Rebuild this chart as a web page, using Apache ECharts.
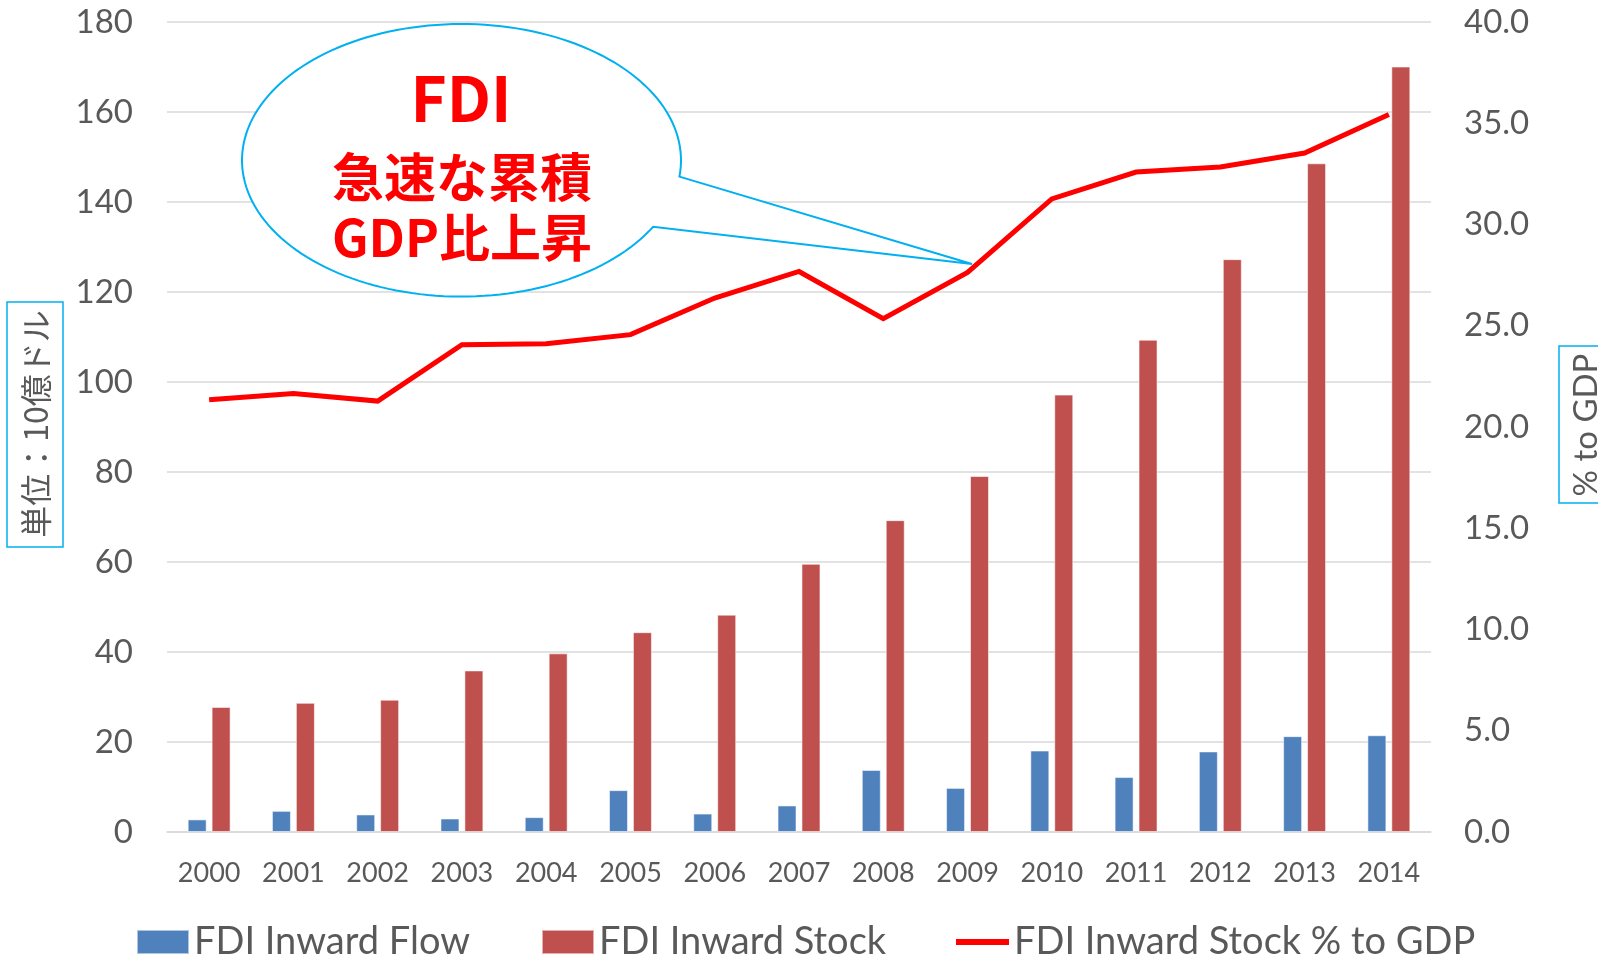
<!DOCTYPE html>
<html>
<head>
<meta charset="utf-8">
<script src="https://cdn.jsdelivr.net/npm/echarts@6/dist/echarts.min.js"></script>
<style>
html,body{margin:0;padding:0;background:#fff;}
#chart{width:1598px;height:959px;}
</style>
</head>
<body>
<div id="chart"></div>
<script>
var years = ['2000','2001','2002','2003','2004','2005','2006','2007','2008','2009','2010','2011','2012','2013','2014'];
var inwardFlow = [2.8, 4.7, 3.9, 3.0, 3.3, 9.3, 4.1, 5.9, 13.8, 9.8, 18.1, 12.2, 17.9, 21.3, 21.5];
var inwardStock = [27.8, 28.7, 29.4, 35.9, 39.7, 44.4, 48.3, 59.6, 69.3, 79.1, 97.2, 109.4, 127.3, 148.6, 170.1];
var stockPctGdp = [21.35, 21.65, 21.28, 24.06, 24.11, 24.56, 26.37, 27.68, 25.35, 27.63, 31.26, 32.59, 32.84, 33.53, 35.43];
var seriesNames = ['FDI Inward Flow', 'FDI Inward Stock', 'FDI Inward Stock % to GDP'];

var FONT = 'Lato, "Noto Sans", sans-serif';
var CJK = '"Noto Sans CJK JP", "Noto Sans", sans-serif';
var chart = echarts.init(document.getElementById('chart'));

function legendFor(i, left, icon, iw, ih) {
  return {
    left: left, top: 923, orient: 'horizontal', padding: 0,
    data: [{name: seriesNames[i], icon: icon}],
    itemWidth: iw, itemHeight: ih, itemGap: 0,
    selectedMode: false,
    textStyle: {fontFamily: FONT, fontSize: 38, color: '#595959', lineHeight: 38}
  };
}

// callout balloon outline (annotation shape)
var cx = 461.5, cy = 160.3, rx = 219.5, ry = 136.3;
var a1 = Math.atan2((176.7 - cy) / ry, (680 - cx) / rx);
var a2 = Math.atan2((226.7 - cy) / ry, (653 - cx) / rx) - 2 * Math.PI;
var balloon = [];
var N = 160;
for (var k = 0; k <= N; k++) {
  var a = a1 + (a2 - a1) * k / N;
  balloon.push([cx + rx * Math.cos(a), cy + ry * Math.sin(a)]);
}
balloon.push([972, 264]);

var option = {
  animation: false,
  backgroundColor: '#fff',
  grid: {left: 167, right: 167, top: 22, bottom: 127, containLabel: false},
  legend: [
    legendFor(0, 136, 'rect', 52, 24),
    legendFor(1, 541, 'rect', 52, 24),
    legendFor(2, 956, 'rect', 53, 6)
  ],
  xAxis: {
    type: 'category', data: years,
    axisLine: {show: true, lineStyle: {color: '#D9D9D9', width: 1.5}},
    axisTick: {show: false},
    axisLabel: {fontFamily: FONT, fontSize: 27, color: '#595959', margin: 28}
  },
  yAxis: [
    {type: 'value', min: 0, max: 180, interval: 20, position: 'left',
     axisLine: {show: false}, axisTick: {show: false},
     axisLabel: {fontFamily: FONT, fontSize: 33, color: '#595959', margin: 34},
     splitLine: {lineStyle: {color: '#D9D9D9', width: 1.5}}},
    {type: 'value', min: 0, max: 40, interval: 5, position: 'right',
     axisLine: {show: false}, axisTick: {show: false},
     axisLabel: {fontFamily: FONT, fontSize: 33, color: '#595959', margin: 33,
       formatter: function (v) { return v.toFixed(1); }},
     splitLine: {show: false}}
  ],
  series: [
    {name: seriesNames[0], type: 'bar', yAxisIndex: 0, data: inwardFlow,
     barWidth: 19, barGap: '26%',
     itemStyle: {color: '#4F81BD', borderColor: 'rgba(255,255,255,0.55)', borderWidth: 1}},
    {name: seriesNames[1], type: 'bar', yAxisIndex: 0, data: inwardStock,
     barWidth: 19, barGap: '26%',
     itemStyle: {color: '#C0504D', borderColor: 'rgba(255,255,255,0.55)', borderWidth: 1}},
    {name: seriesNames[2], type: 'line', yAxisIndex: 1, data: stockPctGdp,
     symbol: 'none', smooth: false, z: 5,
     lineStyle: {color: '#FF0000', width: 5, join: 'miter'},
     itemStyle: {color: '#FF0000'}}
  ],
  graphic: [
    {type: 'rect', shape: {x: 7, y: 302, width: 56, height: 245},
     style: {fill: '#fff', stroke: '#00B0F0', lineWidth: 1.5}, z: 10},
    {type: 'text', x: 36, y: 424, rotation: Math.PI / 2, z: 11,
     style: {text: '単位：10億ドル', font: '32px ' + CJK, fill: '#595959',
       textAlign: 'center', textVerticalAlign: 'middle'}},
    {type: 'rect', shape: {x: 1559, y: 346, width: 60, height: 157},
     style: {fill: '#fff', stroke: '#00B0F0', lineWidth: 1.5}, z: 10},
    {type: 'text', x: 1586, y: 425, rotation: Math.PI / 2, z: 11,
     style: {text: '% to GDP', font: '33px ' + FONT, fill: '#595959',
       textAlign: 'center', textVerticalAlign: 'middle'}},
    {type: 'polygon', z: 20,
     shape: {points: balloon},
     style: {fill: '#fff', stroke: '#00B0F0', lineWidth: 2}},
    {type: 'text', x: 461, y: 98, z: 21,
     style: {text: 'FDI', font: 'bold 62px ' + CJK, fill: '#FF0000',
       textAlign: 'center', textVerticalAlign: 'middle'}},
    {type: 'text', x: 462, y: 177, z: 21,
     style: {text: '急速な累積', font: 'bold 52px ' + CJK, fill: '#FF0000',
       textAlign: 'center', textVerticalAlign: 'middle'}},
    {type: 'text', x: 462, y: 238, z: 21,
     style: {text: 'GDP比上昇', font: 'bold 51px ' + CJK, fill: '#FF0000',
       textAlign: 'center', textVerticalAlign: 'middle'}}
  ]
};
chart.setOption(option);
</script>
</body>
</html>
